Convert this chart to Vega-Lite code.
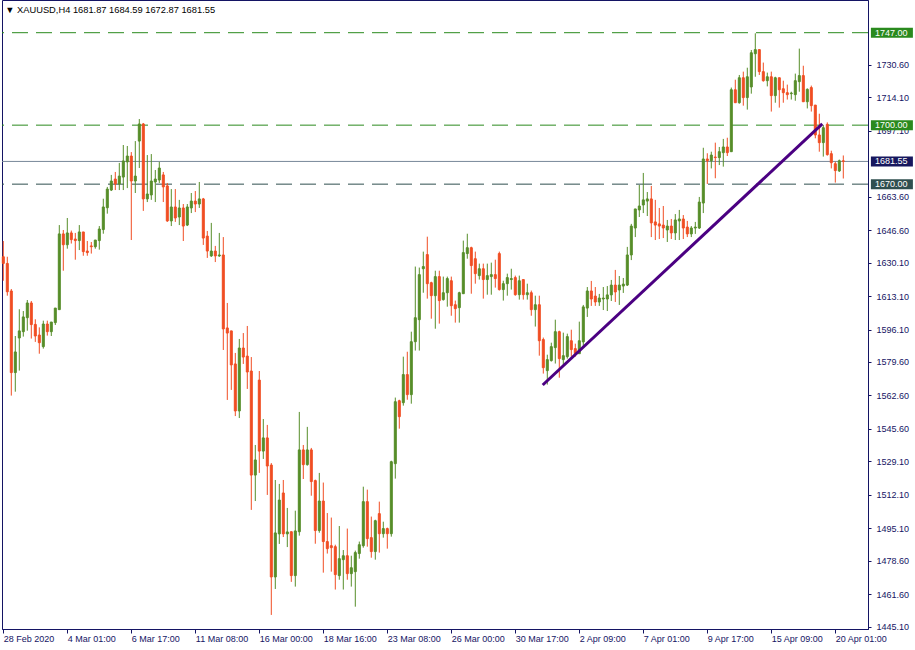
{
  "$schema": "https://vega.github.io/schema/vega-lite/v6.json",
  "width": 866,
  "height": 629,
  "autosize": {"type": "none"},
  "padding": {"left": 2, "top": 0, "right": 47, "bottom": 21},
  "background": "white",
  "config": {
    "view": {"stroke": "#141464", "strokeWidth": 1},
    "scale": {"continuousPadding": 0},
    "axis": {"grid": false, "title": null, "domainColor": "#141464", "tickColor": "#141464", "labelColor": "#141464", "labelFont": "Liberation Sans", "labelFontSize": 9, "labelOverlap": false, "labelBound": false, "labelFlush": false}
  },
  "datasets": {
    "candles": [
      {"i":0,"o":1633.1,"h":1641.1,"l":1620.9,"c":1629.7},
      {"i":1,"o":1629.7,"h":1633.1,"l":1613.3,"c":1615.3},
      {"i":2,"o":1615.7,"h":1616.7,"l":1562.5,"c":1574.2},
      {"i":3,"o":1574.2,"h":1592.8,"l":1564.5,"c":1584.7},
      {"i":4,"o":1591.8,"h":1606.4,"l":1575.2,"c":1595.4},
      {"i":5,"o":1595.0,"h":1605.5,"l":1592.5,"c":1602.5},
      {"i":6,"o":1602.1,"h":1611.1,"l":1595.5,"c":1609.6},
      {"i":7,"o":1609.6,"h":1610.6,"l":1591.5,"c":1598.6},
      {"i":8,"o":1598.7,"h":1601.3,"l":1589.8,"c":1592.8},
      {"i":9,"o":1593.3,"h":1597.2,"l":1583.8,"c":1589.4},
      {"i":10,"o":1587.4,"h":1600.6,"l":1586.4,"c":1598.9},
      {"i":11,"o":1598.9,"h":1600.6,"l":1593.0,"c":1595.0},
      {"i":12,"o":1595.0,"h":1599.9,"l":1592.8,"c":1599.9},
      {"i":13,"o":1599.6,"h":1607.0,"l":1598.4,"c":1607.0},
      {"i":14,"o":1606.2,"h":1649.2,"l":1606.2,"c":1644.7},
      {"i":15,"o":1644.7,"h":1646.7,"l":1626.0,"c":1639.2},
      {"i":16,"o":1639.2,"h":1652.8,"l":1637.2,"c":1645.2},
      {"i":17,"o":1645.2,"h":1646.4,"l":1639.8,"c":1641.8},
      {"i":18,"o":1642.1,"h":1645.2,"l":1631.6,"c":1641.3},
      {"i":19,"o":1641.3,"h":1649.2,"l":1636.5,"c":1645.7},
      {"i":20,"o":1645.7,"h":1645.7,"l":1633.6,"c":1635.7},
      {"i":21,"o":1636.0,"h":1641.1,"l":1633.6,"c":1635.2},
      {"i":22,"o":1638.6,"h":1640.6,"l":1634.7,"c":1638.2},
      {"i":23,"o":1638.2,"h":1641.6,"l":1637.2,"c":1641.6},
      {"i":24,"o":1641.3,"h":1648.7,"l":1636.7,"c":1647.2},
      {"i":25,"o":1646.9,"h":1662.6,"l":1644.8,"c":1658.4},
      {"i":26,"o":1658.0,"h":1668.6,"l":1655.0,"c":1667.5},
      {"i":27,"o":1667.0,"h":1674.7,"l":1666.5,"c":1671.6},
      {"i":28,"o":1672.6,"h":1676.2,"l":1667.0,"c":1670.1},
      {"i":29,"o":1670.1,"h":1680.8,"l":1667.0,"c":1674.1},
      {"i":30,"o":1673.6,"h":1689.9,"l":1667.0,"c":1681.8},
      {"i":31,"o":1681.3,"h":1689.4,"l":1668.0,"c":1684.3},
      {"i":32,"o":1684.3,"h":1686.3,"l":1641.6,"c":1671.6},
      {"i":33,"o":1671.6,"h":1691.9,"l":1665.5,"c":1674.1},
      {"i":34,"o":1691.9,"h":1703.1,"l":1678.2,"c":1700.6},
      {"i":35,"o":1700.6,"h":1701.1,"l":1656.4,"c":1662.5},
      {"i":36,"o":1662.5,"h":1684.8,"l":1660.9,"c":1665.0},
      {"i":37,"o":1664.5,"h":1685.3,"l":1662.0,"c":1671.6},
      {"i":38,"o":1671.1,"h":1677.2,"l":1660.9,"c":1672.6},
      {"i":39,"o":1672.1,"h":1681.3,"l":1670.6,"c":1678.2},
      {"i":40,"o":1674.7,"h":1676.2,"l":1660.9,"c":1668.6},
      {"i":41,"o":1669.1,"h":1670.6,"l":1650.8,"c":1651.3},
      {"i":42,"o":1651.3,"h":1667.5,"l":1648.7,"c":1658.4},
      {"i":43,"o":1658.4,"h":1667.5,"l":1650.8,"c":1652.8},
      {"i":44,"o":1653.3,"h":1662.0,"l":1649.2,"c":1657.9},
      {"i":45,"o":1657.9,"h":1659.9,"l":1641.1,"c":1648.7},
      {"i":46,"o":1649.2,"h":1659.9,"l":1648.7,"c":1658.4},
      {"i":47,"o":1657.9,"h":1665.5,"l":1655.3,"c":1661.4},
      {"i":48,"o":1661.4,"h":1666.5,"l":1655.8,"c":1659.9},
      {"i":49,"o":1659.9,"h":1671.1,"l":1657.9,"c":1662.5},
      {"i":50,"o":1662.5,"h":1663.0,"l":1639.1,"c":1642.6},
      {"i":51,"o":1643.6,"h":1646.2,"l":1632.5,"c":1636.0},
      {"i":52,"o":1633.5,"h":1650.3,"l":1633.0,"c":1636.0},
      {"i":53,"o":1636.0,"h":1638.6,"l":1630.4,"c":1633.5},
      {"i":54,"o":1633.5,"h":1645.2,"l":1633.0,"c":1634.0},
      {"i":55,"o":1634.0,"h":1643.1,"l":1585.7,"c":1596.4},
      {"i":56,"o":1596.9,"h":1609.6,"l":1560.3,"c":1594.3},
      {"i":57,"o":1595.4,"h":1595.4,"l":1565.4,"c":1578.1},
      {"i":58,"o":1578.6,"h":1584.2,"l":1552.1,"c":1554.7},
      {"i":59,"o":1554.7,"h":1591.3,"l":1551.1,"c":1586.7},
      {"i":60,"o":1586.7,"h":1594.3,"l":1578.6,"c":1582.1},
      {"i":61,"o":1582.6,"h":1597.9,"l":1565.9,"c":1574.5},
      {"i":62,"o":1575.0,"h":1582.1,"l":1504.4,"c":1522.1},
      {"i":63,"o":1522.1,"h":1537.4,"l":1508.9,"c":1529.8},
      {"i":64,"o":1570.4,"h":1575.0,"l":1523.2,"c":1534.3},
      {"i":65,"o":1534.3,"h":1550.6,"l":1530.3,"c":1541.0},
      {"i":66,"o":1541.0,"h":1547.6,"l":1512.0,"c":1526.7},
      {"i":67,"o":1527.2,"h":1528.2,"l":1451.0,"c":1470.3},
      {"i":68,"o":1470.3,"h":1519.6,"l":1464.2,"c":1492.7},
      {"i":69,"o":1492.2,"h":1517.6,"l":1487.1,"c":1509.4},
      {"i":70,"o":1513.0,"h":1519.6,"l":1490.6,"c":1492.2},
      {"i":71,"o":1492.2,"h":1505.4,"l":1485.5,"c":1493.2},
      {"i":72,"o":1493.3,"h":1493.4,"l":1467.8,"c":1471.0},
      {"i":73,"o":1471.0,"h":1504.0,"l":1465.4,"c":1493.7},
      {"i":74,"o":1493.3,"h":1554.2,"l":1491.3,"c":1534.9},
      {"i":75,"o":1534.9,"h":1537.4,"l":1520.1,"c":1527.4},
      {"i":76,"o":1527.4,"h":1546.6,"l":1526.9,"c":1534.9},
      {"i":77,"o":1534.9,"h":1535.9,"l":1511.6,"c":1518.8},
      {"i":78,"o":1519.3,"h":1519.8,"l":1487.2,"c":1493.9},
      {"i":79,"o":1493.9,"h":1523.2,"l":1492.8,"c":1508.9},
      {"i":80,"o":1508.9,"h":1518.3,"l":1472.5,"c":1488.3},
      {"i":81,"o":1488.3,"h":1502.8,"l":1482.2,"c":1484.7},
      {"i":82,"o":1486.2,"h":1500.5,"l":1473.0,"c":1485.2},
      {"i":83,"o":1485.7,"h":1486.7,"l":1463.9,"c":1471.5},
      {"i":84,"o":1471.0,"h":1496.2,"l":1468.9,"c":1479.6},
      {"i":85,"o":1479.1,"h":1484.0,"l":1463.9,"c":1481.1},
      {"i":86,"o":1481.1,"h":1494.9,"l":1468.9,"c":1472.0},
      {"i":87,"o":1472.0,"h":1481.1,"l":1465.4,"c":1475.0},
      {"i":88,"o":1473.0,"h":1483.7,"l":1455.2,"c":1482.7},
      {"i":89,"o":1482.2,"h":1488.3,"l":1479.6,"c":1486.7},
      {"i":90,"o":1486.2,"h":1516.2,"l":1485.2,"c":1508.6},
      {"i":91,"o":1508.6,"h":1514.7,"l":1485.7,"c":1489.8},
      {"i":92,"o":1490.3,"h":1501.0,"l":1480.1,"c":1483.2},
      {"i":93,"o":1483.2,"h":1499.4,"l":1479.1,"c":1498.9},
      {"i":94,"o":1502.5,"h":1508.6,"l":1482.7,"c":1492.3},
      {"i":95,"o":1492.3,"h":1498.4,"l":1490.3,"c":1494.9},
      {"i":96,"o":1494.9,"h":1495.4,"l":1484.7,"c":1492.3},
      {"i":97,"o":1492.3,"h":1529.4,"l":1490.8,"c":1528.9},
      {"i":98,"o":1527.9,"h":1561.5,"l":1520.3,"c":1559.4},
      {"i":99,"o":1559.9,"h":1560.4,"l":1545.7,"c":1551.8},
      {"i":100,"o":1558.9,"h":1582.3,"l":1557.4,"c":1573.2},
      {"i":101,"o":1573.2,"h":1584.8,"l":1560.4,"c":1563.0},
      {"i":102,"o":1563.0,"h":1595.0,"l":1558.4,"c":1589.9},
      {"i":103,"o":1589.9,"h":1628.1,"l":1585.4,"c":1602.1},
      {"i":104,"o":1601.1,"h":1627.6,"l":1585.4,"c":1624.0},
      {"i":105,"o":1627.0,"h":1635.7,"l":1614.8,"c":1628.1},
      {"i":106,"o":1634.2,"h":1643.3,"l":1611.8,"c":1619.4},
      {"i":107,"o":1619.9,"h":1620.4,"l":1601.6,"c":1613.3},
      {"i":108,"o":1613.3,"h":1626.0,"l":1596.5,"c":1623.0},
      {"i":109,"o":1623.0,"h":1626.0,"l":1599.1,"c":1610.8},
      {"i":110,"o":1611.3,"h":1623.0,"l":1610.8,"c":1614.8},
      {"i":111,"o":1614.8,"h":1623.0,"l":1607.7,"c":1622.0},
      {"i":112,"o":1620.9,"h":1623.0,"l":1603.1,"c":1608.2},
      {"i":113,"o":1608.7,"h":1610.8,"l":1599.6,"c":1606.7},
      {"i":114,"o":1607.2,"h":1615.3,"l":1599.6,"c":1614.8},
      {"i":115,"o":1614.3,"h":1641.3,"l":1614.3,"c":1635.2},
      {"i":116,"o":1634.7,"h":1644.8,"l":1632.1,"c":1637.7},
      {"i":117,"o":1637.7,"h":1638.2,"l":1614.3,"c":1628.6},
      {"i":118,"o":1632.1,"h":1635.7,"l":1619.4,"c":1624.5},
      {"i":119,"o":1623.5,"h":1629.6,"l":1621.5,"c":1627.0},
      {"i":120,"o":1627.0,"h":1629.6,"l":1611.8,"c":1621.5},
      {"i":121,"o":1621.5,"h":1629.6,"l":1613.8,"c":1623.5},
      {"i":122,"o":1623.0,"h":1630.1,"l":1613.8,"c":1624.0},
      {"i":123,"o":1624.0,"h":1631.6,"l":1617.4,"c":1622.0},
      {"i":124,"o":1634.7,"h":1635.7,"l":1615.9,"c":1616.4},
      {"i":125,"o":1616.4,"h":1620.9,"l":1610.8,"c":1619.4},
      {"i":126,"o":1619.4,"h":1624.5,"l":1613.3,"c":1622.5},
      {"i":127,"o":1621.5,"h":1627.0,"l":1616.4,"c":1622.0},
      {"i":128,"o":1622.5,"h":1623.5,"l":1613.3,"c":1613.8},
      {"i":129,"o":1613.8,"h":1623.5,"l":1611.3,"c":1620.9},
      {"i":130,"o":1621.5,"h":1621.5,"l":1611.3,"c":1613.8},
      {"i":131,"o":1613.8,"h":1619.4,"l":1611.3,"c":1614.8},
      {"i":132,"o":1614.8,"h":1615.9,"l":1603.1,"c":1606.2},
      {"i":133,"o":1606.2,"h":1613.3,"l":1597.6,"c":1608.7},
      {"i":134,"o":1608.7,"h":1613.3,"l":1582.8,"c":1590.4},
      {"i":135,"o":1591.0,"h":1592.0,"l":1573.7,"c":1576.7},
      {"i":136,"o":1575.2,"h":1583.3,"l":1568.1,"c":1580.8},
      {"i":137,"o":1580.3,"h":1589.4,"l":1579.8,"c":1587.4},
      {"i":138,"o":1586.9,"h":1601.1,"l":1578.8,"c":1595.0},
      {"i":139,"o":1595.0,"h":1595.5,"l":1571.6,"c":1581.3},
      {"i":140,"o":1580.8,"h":1594.5,"l":1577.7,"c":1582.8},
      {"i":141,"o":1582.3,"h":1594.0,"l":1581.3,"c":1592.5},
      {"i":142,"o":1590.4,"h":1596.0,"l":1582.3,"c":1585.9},
      {"i":143,"o":1586.4,"h":1588.9,"l":1582.3,"c":1583.8},
      {"i":144,"o":1583.8,"h":1600.1,"l":1583.8,"c":1590.4},
      {"i":145,"o":1589.8,"h":1608.6,"l":1587.2,"c":1607.6},
      {"i":146,"o":1607.0,"h":1617.7,"l":1602.5,"c":1615.7},
      {"i":147,"o":1615.7,"h":1620.8,"l":1608.1,"c":1611.6},
      {"i":148,"o":1613.1,"h":1617.7,"l":1608.1,"c":1610.1},
      {"i":149,"o":1610.1,"h":1614.2,"l":1608.1,"c":1612.1},
      {"i":150,"o":1611.6,"h":1617.7,"l":1606.0,"c":1612.1},
      {"i":151,"o":1611.6,"h":1618.2,"l":1605.5,"c":1613.7},
      {"i":152,"o":1613.7,"h":1621.3,"l":1610.6,"c":1618.7},
      {"i":153,"o":1618.7,"h":1626.4,"l":1610.1,"c":1615.2},
      {"i":154,"o":1616.2,"h":1623.3,"l":1608.6,"c":1618.7},
      {"i":155,"o":1618.2,"h":1622.3,"l":1614.7,"c":1619.2},
      {"i":156,"o":1618.7,"h":1638.1,"l":1618.2,"c":1634.0},
      {"i":157,"o":1634.0,"h":1649.8,"l":1631.4,"c":1648.7},
      {"i":158,"o":1647.7,"h":1657.4,"l":1643.1,"c":1657.4},
      {"i":159,"o":1656.9,"h":1669.6,"l":1653.3,"c":1658.9},
      {"i":160,"o":1659.4,"h":1675.7,"l":1655.3,"c":1662.0},
      {"i":161,"o":1661.4,"h":1666.0,"l":1653.8,"c":1662.5},
      {"i":162,"o":1662.5,"h":1669.1,"l":1643.1,"c":1650.3},
      {"i":163,"o":1650.8,"h":1662.0,"l":1641.6,"c":1649.2},
      {"i":164,"o":1649.8,"h":1657.9,"l":1642.1,"c":1648.7},
      {"i":165,"o":1649.2,"h":1658.9,"l":1642.6,"c":1647.7},
      {"i":166,"o":1646.7,"h":1651.8,"l":1640.6,"c":1648.7},
      {"i":167,"o":1648.7,"h":1652.3,"l":1642.1,"c":1645.2},
      {"i":168,"o":1645.2,"h":1654.8,"l":1641.6,"c":1651.8},
      {"i":169,"o":1651.3,"h":1656.9,"l":1641.6,"c":1652.3},
      {"i":170,"o":1652.3,"h":1654.3,"l":1642.1,"c":1647.7},
      {"i":171,"o":1648.2,"h":1651.3,"l":1643.1,"c":1644.7},
      {"i":172,"o":1644.7,"h":1648.7,"l":1643.1,"c":1647.7},
      {"i":173,"o":1647.7,"h":1650.8,"l":1644.7,"c":1648.2},
      {"i":174,"o":1647.7,"h":1663.5,"l":1647.2,"c":1660.9},
      {"i":175,"o":1660.4,"h":1688.5,"l":1655.3,"c":1682.8},
      {"i":176,"o":1682.8,"h":1685.7,"l":1670.1,"c":1681.9},
      {"i":177,"o":1681.9,"h":1686.5,"l":1678.0,"c":1684.8},
      {"i":178,"o":1683.8,"h":1691.1,"l":1673.0,"c":1683.5},
      {"i":179,"o":1683.5,"h":1688.9,"l":1679.7,"c":1686.5},
      {"i":180,"o":1686.0,"h":1693.0,"l":1678.9,"c":1688.9},
      {"i":181,"o":1688.9,"h":1693.6,"l":1684.3,"c":1686.0},
      {"i":182,"o":1686.5,"h":1719.1,"l":1686.5,"c":1718.0},
      {"i":183,"o":1718.0,"h":1723.1,"l":1711.4,"c":1711.4},
      {"i":184,"o":1711.4,"h":1725.5,"l":1710.9,"c":1724.1},
      {"i":185,"o":1724.1,"h":1727.2,"l":1709.9,"c":1714.0},
      {"i":186,"o":1714.0,"h":1729.2,"l":1707.9,"c":1724.6},
      {"i":187,"o":1719.4,"h":1738.2,"l":1716.0,"c":1736.8},
      {"i":188,"o":1736.3,"h":1746.7,"l":1724.6,"c":1738.4},
      {"i":189,"o":1738.4,"h":1738.4,"l":1725.5,"c":1727.2},
      {"i":190,"o":1727.2,"h":1731.8,"l":1722.1,"c":1722.6},
      {"i":191,"o":1722.6,"h":1726.7,"l":1719.7,"c":1724.6},
      {"i":192,"o":1724.6,"h":1727.2,"l":1706.9,"c":1715.0},
      {"i":193,"o":1715.0,"h":1724.6,"l":1711.4,"c":1724.1},
      {"i":194,"o":1724.1,"h":1724.1,"l":1708.9,"c":1718.0},
      {"i":195,"o":1718.5,"h":1722.6,"l":1711.4,"c":1716.5},
      {"i":196,"o":1716.5,"h":1720.6,"l":1713.0,"c":1715.5},
      {"i":197,"o":1716.0,"h":1717.0,"l":1713.0,"c":1716.3},
      {"i":198,"o":1715.5,"h":1726.2,"l":1712.4,"c":1722.6},
      {"i":199,"o":1722.1,"h":1738.9,"l":1717.0,"c":1725.2},
      {"i":200,"o":1725.2,"h":1730.2,"l":1711.9,"c":1711.9},
      {"i":201,"o":1711.9,"h":1718.7,"l":1708.5,"c":1718.2},
      {"i":202,"o":1719.1,"h":1720.1,"l":1706.9,"c":1709.9},
      {"i":203,"o":1710.2,"h":1710.2,"l":1693.3,"c":1695.0},
      {"i":204,"o":1695.0,"h":1705.8,"l":1686.5,"c":1691.1},
      {"i":205,"o":1691.1,"h":1700.1,"l":1684.0,"c":1698.7},
      {"i":206,"o":1700.4,"h":1701.4,"l":1684.5,"c":1685.0},
      {"i":207,"o":1685.5,"h":1687.0,"l":1678.0,"c":1680.9},
      {"i":208,"o":1680.4,"h":1681.4,"l":1670.8,"c":1676.9},
      {"i":209,"o":1676.7,"h":1682.5,"l":1676.2,"c":1681.9},
      {"i":210,"o":1681.87,"h":1684.59,"l":1672.87,"c":1681.55}
    ]
  },
  "layer": [
    {
      "data": {"values": [{"p": 1747.0}, {"p": 1700.0}]},
      "mark": {"type": "rule", "color": "#2a8a1e", "strokeWidth": 1, "strokeDash": [16, 8]},
      "encoding": {
        "y": {
          "field": "p", "type": "quantitative",
          "scale": {"domain": [1443.85, 1763.62], "nice": false, "zero": false, "padding": 0},
          "axis": {
            "orient": "right",
            "values": [1445.1, 1461.6, 1478.6, 1495.1, 1512.1, 1529.1, 1545.6, 1562.6, 1579.6, 1596.1, 1613.1, 1630.1, 1646.6, 1663.6, 1697.1, 1714.1, 1730.6],
            "tickCount": 40,
            "format": ".2f",
            "labelAlign": "left",
            "labelBaseline": "middle",
            "labelOverlap": false,
            "tickSize": 3,
            "labelPadding": 5
          }
        }
      }
    },
    {
      "data": {"values": [{"p": 1670.0}]},
      "mark": {"type": "rule", "color": "#2f4f4f", "strokeWidth": 1, "strokeDash": [16, 8]},
      "encoding": {"y": {"field": "p", "type": "quantitative"}}
    },
    {
      "data": {"values": [{"p": 1681.55}]},
      "mark": {"type": "rule", "color": "#778899", "strokeWidth": 1},
      "encoding": {"y": {"field": "p", "type": "quantitative"}}
    },
    {
      "data": {"name": "candles"},
      "mark": {"type": "rule", "strokeWidth": 1},
      "encoding": {
        "x": {
          "field": "i", "type": "quantitative",
          "scale": {"domain": [-0.325, 216.175], "nice": false, "zero": false, "padding": 0},
          "axis": {
            "orient": "bottom",
            "values": [0, 16, 32, 48, 64, 80, 96, 112, 128, 144, 160, 176, 192, 208],
            "tickCount": 40,
            "labelExpr": "['28 Feb 2020','4 Mar 01:00','6 Mar 17:00','11 Mar 08:00','16 Mar 00:00','18 Mar 16:00','23 Mar 08:00','26 Mar 00:00','30 Mar 17:00','2 Apr 09:00','7 Apr 01:00','9 Apr 17:00','15 Apr 09:00','20 Apr 01:00'][round(datum.value/16)]",
            "labelAlign": "left",
            "labelBaseline": "top",
            "labelOverlap": false,
            "tickSize": 4,
            "labelPadding": 1
          }
        },
        "y": {"field": "l", "type": "quantitative"},
        "y2": {"field": "h"},
        "color": {"condition": {"test": "datum.c < datum.o", "value": "#f04e23"}, "value": "#578e2a"}
      }
    },
    {
      "data": {"name": "candles"},
      "mark": {"type": "bar", "size": 2, "strokeWidth": 1, "opacity": 1},
      "encoding": {
        "x": {"field": "i", "type": "quantitative"},
        "y": {"field": "o", "type": "quantitative"},
        "y2": {"field": "c"},
        "color": {"condition": {"test": "datum.c < datum.o", "value": "#f04e23"}, "value": "#578e2a"},
        "stroke": {"condition": {"test": "datum.c < datum.o", "value": "#f04e23"}, "value": "#578e2a"}
      }
    },
    {
      "data": {"values": [{"i": 134.85, "p": 1567.9}, {"i": 204.75, "p": 1700.6}]},
      "mark": {"type": "line", "color": "#4b0082", "strokeWidth": 3},
      "encoding": {
        "x": {"field": "i", "type": "quantitative"},
        "y": {"field": "p", "type": "quantitative"}
      }
    },
    {
      "data": {"values": [
        {"p": 1747.0, "t": "1747.00", "k": "level"},
        {"p": 1700.0, "t": "1700.00", "k": "level"},
        {"p": 1681.55, "t": "1681.55", "k": "price"},
        {"p": 1670.0, "t": "1670.00", "k": "support"}
      ]},
      "mark": {"type": "bar", "orient": "horizontal", "size": 10, "clip": false},
      "encoding": {
        "x": {"datum": 216.9, "type": "quantitative"},
        "x2": {"datum": 227.4},
        "y": {"field": "p", "type": "quantitative"},
        "color": {"field": "k", "type": "nominal", "scale": {"domain": ["level", "price", "support"], "range": ["#2a8a1e", "#17175e", "#2f4f4f"]}, "legend": null}
      }
    },
    {
      "data": {"values": [
        {"p": 1747.0, "t": "1747.00"},
        {"p": 1700.0, "t": "1700.00"},
        {"p": 1681.55, "t": "1681.55"},
        {"p": 1670.0, "t": "1670.00"}
      ]},
      "mark": {"type": "text", "align": "left", "baseline": "middle", "color": "white", "font": "Liberation Sans", "fontSize": 9, "clip": false},
      "encoding": {
        "x": {"datum": 217.9, "type": "quantitative"},
        "y": {"field": "p", "type": "quantitative"},
        "text": {"field": "t"}
      }
    },
    {
      "data": {"values": [{"t": "▼  XAUUSD,H4  1681.87 1684.59 1672.87 1681.55"}]},
      "mark": {"type": "text", "align": "left", "baseline": "middle", "color": "black", "font": "Liberation Sans", "fontSize": 9.3},
      "encoding": {
        "x": {"datum": 0.5, "type": "quantitative"},
        "y": {"datum": 1758.6, "type": "quantitative"},
        "text": {"field": "t"}
      }
    }
  ]
}
